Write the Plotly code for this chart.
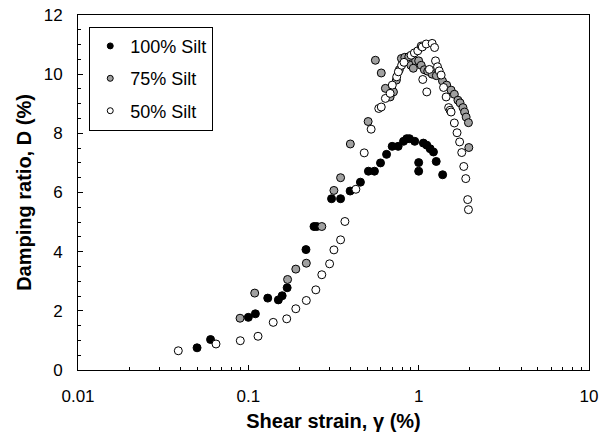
import plotly.graph_objects as go

# Damping ratio vs shear strain for three silt contents
silt100_strain = [0.05, 0.06, 0.1, 0.11, 0.13, 0.15, 0.158, 0.169, 0.218, 0.243, 0.252,
                  0.308, 0.348, 0.396, 0.455, 0.507, 0.55, 0.597, 0.648, 0.699, 0.758,
                  0.815, 0.851, 0.883, 0.948, 1.0, 1.0, 1.066, 1.116, 1.168, 1.221, 1.268, 1.383]
silt100_damping = [0.75, 1.03, 1.78, 1.90, 2.43, 2.37, 2.51, 2.78, 4.07, 4.85, 4.85,
                   5.79, 5.79, 6.05, 6.35, 6.72, 6.72, 7.0, 7.29, 7.56, 7.56,
                   7.73, 7.82, 7.82, 7.73, 7.01, 6.72, 7.67, 7.60, 7.48, 7.37, 7.05, 6.60]

silt75_strain = [0.0894, 0.109, 0.17, 0.19, 0.219, 0.27, 0.318, 0.348, 0.397, 0.505,
                 0.557, 0.603, 0.638, 0.68, 0.711, 0.74, 0.77, 0.792, 0.829, 0.875,
                 0.90, 0.93, 0.96, 1.0, 1.035, 1.08, 1.13, 1.2, 1.27, 1.38,
                 1.46, 1.55, 1.62, 1.70, 1.75, 1.82, 1.86, 1.90, 1.96, 1.97]
silt75_damping = [1.75, 2.60, 3.06, 3.41, 3.61, 4.85, 6.07, 6.50, 7.64, 8.40,
                  10.47, 10.04, 9.52, 9.23, 9.40, 9.80, 10.15, 10.53, 10.57, 10.59,
                  10.30, 10.20, 10.45, 10.45, 10.30, 10.15, 10.10, 10.0, 9.95, 9.77,
                  9.63, 9.46, 9.32, 9.12, 9.03, 8.87, 8.72, 8.55, 8.36, 7.52]

silt50_strain = [0.0388, 0.0646, 0.0897, 0.114, 0.140, 0.168, 0.190, 0.219, 0.249, 0.270,
                 0.300, 0.318, 0.348, 0.369, 0.428, 0.479, 0.526, 0.583, 0.603, 0.638,
                 0.68, 0.70, 0.743, 0.76, 0.794, 0.82, 0.903, 0.944, 0.988, 1.035, 1.05,
                 1.107, 1.2, 1.24, 1.057, 1.116, 1.156, 1.256, 1.29, 1.32, 1.355,
                 1.40, 1.45, 1.50, 1.53, 1.55, 1.62, 1.68, 1.74, 1.79, 1.84, 1.89, 1.94, 1.96]
silt50_damping = [0.65, 0.88, 0.99, 1.14, 1.61, 1.73, 2.07, 2.35, 2.71, 3.22,
                  3.59, 4.06, 4.40, 5.02, 6.11, 7.34, 8.14, 8.84, 8.89, 9.18,
                  9.35, 9.63, 9.91, 10.08, 10.30, 10.40, 10.64, 10.72, 10.79, 10.95, 10.92,
                  11.02, 11.04, 10.90, 9.82, 9.40, 10.16, 10.45, 10.25, 10.11, 9.97,
                  9.55, 9.23, 8.87, 8.78, 8.72, 8.35, 8.02, 7.71, 7.35, 6.88, 6.47, 5.76, 5.42]

series = [
    ("100% Silt", silt100_strain, silt100_damping, "#000000"),
    ("75% Silt", silt75_strain, silt75_damping, "#A0A0A0"),
    ("50% Silt", silt50_strain, silt50_damping, "#FFFFFF"),
]

fig = go.Figure()
for name, xs, ys, fill in series:
    fig.add_trace(go.Scatter(
        x=xs, y=ys, mode="markers", name=name, legendgroup=name, showlegend=False,
        marker=dict(symbol="circle", size=8, color=fill,
                    line=dict(color="#000000", width=1)),
    ))
    # smaller symbol for the legend key
    fig.add_trace(go.Scatter(
        x=[None], y=[None], mode="markers", name=name, legendgroup=name,
        marker=dict(symbol="circle", size=6, color=fill,
                    line=dict(color="#000000", width=1)),
    ))

font_family = "Liberation Sans, Arial, sans-serif"
axis_common = dict(
    showline=True, linecolor="#000000", linewidth=1, mirror=True,
    showgrid=False, zeroline=False, automargin=False,
    ticks="inside", ticklen=5, tickcolor="#000000",
    tickfont=dict(family=font_family, size=17, color="#000000"),
)

fig.update_xaxes(
    type="log", range=[-2, 1],
    tickvals=[0.01, 0.1, 1, 10], ticktext=["0.01", "0.1", "1", "10"],
    minor=dict(ticks="inside", ticklen=3, tickcolor="#000000",
               dtick="D1", showgrid=False),
    ticklabelstandoff=11,
    title=dict(text="Shear strain, γ (%)",
               font=dict(family=font_family, size=20, color="#000000", weight="bold"),
               standoff=12),
    **axis_common,
)
fig.update_yaxes(
    range=[0, 12], dtick=2,
    minor=dict(ticks="inside", ticklen=3, tickcolor="#000000", dtick=0.5, showgrid=False),
    ticklabelstandoff=11,
    title=dict(text="Damping ratio, D (%)",
               font=dict(family=font_family, size=20, color="#000000", weight="bold"),
               standoff=6),
    **axis_common,
)

fig.update_layout(
    width=616, height=432,
    margin=dict(l=78, r=27, t=15, b=62),
    paper_bgcolor="#FFFFFF", plot_bgcolor="#FFFFFF",
    showlegend=True,
    legend=dict(
        x=0.022, y=0.967, xanchor="left", yanchor="top",
        bgcolor="#FFFFFF", bordercolor="#000000", borderwidth=1,
        font=dict(family=font_family, size=18, color="#000000"),
        tracegroupgap=6, itemwidth=30,
    ),
)

fig.write_html("out.html")
